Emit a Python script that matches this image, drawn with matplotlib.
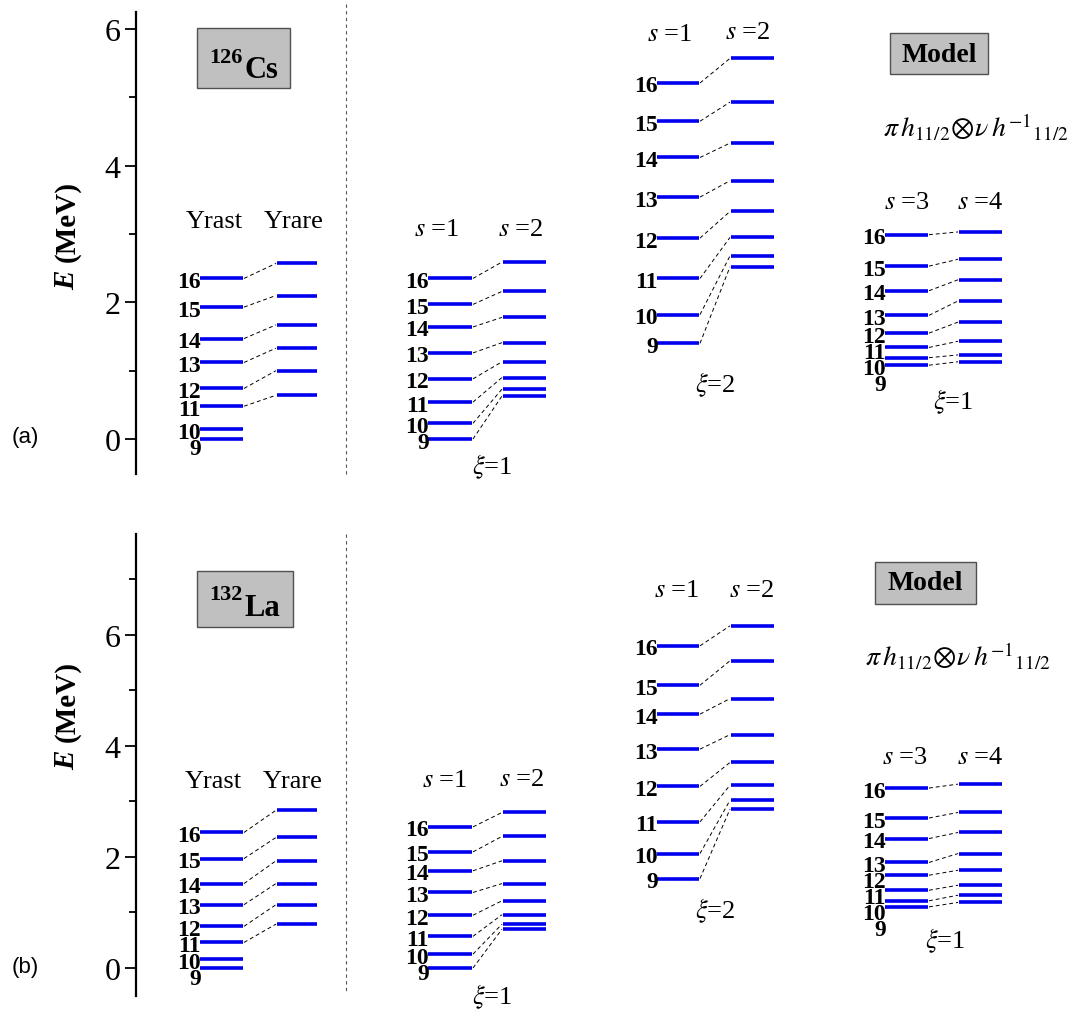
import numpy as np
import matplotlib
matplotlib.use("Agg")
import matplotlib.pyplot as plt
from matplotlib.patches import Rectangle

plt.rcParams['font.family'] = ['Liberation Serif', 'DejaVu Serif']
plt.rcParams['mathtext.fontset'] = 'stix'

W, H = 1083, 1012

spins = [9, 10, 11, 12, 13, 14, 15, 16]

# 126Cs, energies in MeV (yrare band starts at I = 11)
cs_yrast = [0.00, 0.14, 0.48, 0.74, 1.12, 1.47, 1.93, 2.35]
cs_yrare = [0.64, 1.00, 1.33, 1.67, 2.10, 2.57]
cs_xi1_s1 = [0.00, 0.23, 0.54, 0.88, 1.26, 1.64, 1.97, 2.35]
cs_xi1_s2 = [0.63, 0.73, 0.90, 1.13, 1.41, 1.78, 2.16, 2.59]
cs_xi2_s1 = [1.40, 1.82, 2.35, 2.94, 3.54, 4.12, 4.65, 5.21]
cs_xi2_s2 = [2.52, 2.68, 2.95, 3.33, 3.78, 4.33, 4.93, 5.57]
cs_mod_s3 = [1.08, 1.19, 1.34, 1.55, 1.81, 2.17, 2.53, 2.99]
cs_mod_s4 = [1.13, 1.23, 1.43, 1.71, 2.02, 2.33, 2.63, 3.03]

# 132La
la_yrast = [0.00, 0.16, 0.46, 0.75, 1.14, 1.52, 1.97, 2.44]
la_yrare = [0.79, 1.14, 1.52, 1.93, 2.35, 2.84]
la_xi1_s1 = [0.00, 0.25, 0.57, 0.95, 1.36, 1.75, 2.09, 2.54]
la_xi1_s2 = [0.70, 0.79, 0.96, 1.21, 1.52, 1.93, 2.37, 2.80]
la_xi2_s1 = [1.61, 2.06, 2.63, 3.27, 3.94, 4.57, 5.09, 5.80]
la_xi2_s2 = [2.86, 3.02, 3.29, 3.70, 4.20, 4.85, 5.53, 6.16]
la_mod_s3 = [1.10, 1.21, 1.40, 1.67, 1.90, 2.33, 2.70, 3.24]
la_mod_s4 = [1.18, 1.31, 1.49, 1.76, 2.06, 2.44, 2.80, 3.31]

# column x extents (pixels)
COLS = {
    'yrast': (200, 243), 'yrare': (277, 317),
    'x1s1': (428, 472), 'x1s2': (503, 546),
    'x2s1': (657, 699), 'x2s2': (731, 774),
    'ms3': (885, 928), 'ms4': (959, 1002),
}

fig = plt.figure(figsize=(W / 100, H / 100), dpi=100)


def fpos(x, y):
    return x / W, 1 - y / H


def ftext(x, y, s, **kw):
    kw.setdefault('ha', 'center')
    kw.setdefault('va', 'center')
    fig.text(*fpos(x, y), s, **kw)


def fbox(x0, y0, x1, y1):
    fig.add_artist(Rectangle(fpos(x0, y1), (x1 - x0) / W, (y1 - y0) / H,
                             transform=fig.transFigure, facecolor='#c0c0c0',
                             edgecolor='#505050', lw=1.0, zorder=1))


def make_axes(top_px, bot_px, zero_px, ppm, spine_lo, spine_hi, major, minor):
    ax = fig.add_axes([0, 1 - bot_px / H, 1, (bot_px - top_px) / H])
    ax.set_xlim(0, W)
    ax.set_ylim((zero_px - bot_px) / ppm, (zero_px - top_px) / ppm)
    for s in ['top', 'right', 'bottom']:
        ax.spines[s].set_visible(False)
    ax.spines['left'].set_position(('data', 136))
    ax.spines['left'].set_bounds(spine_lo, spine_hi)
    ax.spines['left'].set_linewidth(1.6)
    ax.set_xticks([])
    ax.set_yticks(major)
    ax.set_yticklabels([str(m) for m in major], fontsize=23,
                       family=['Liberation Serif'])
    ax.set_yticks(minor, minor=True)
    ax.tick_params(axis='y', which='major', direction='out', length=8,
                   width=1.3, pad=3)
    ax.tick_params(axis='y', which='minor', direction='out', length=5,
                   width=1.3)
    ax.patch.set_alpha(0)
    return ax


def levels(ax, col, vals):
    x0, x1 = COLS[col]
    ax.hlines(vals, x0, x1, colors='#0000ee', lw=2.6, zorder=3)


def links(ax, c0, lo, c1, hi):
    xa = COLS[c0][1]
    xb = COLS[c1][0]
    for a, b in zip(lo, hi):
        ax.plot([xa + 1, xb - 1], [a, b], color='black', lw=0.7,
                ls=(0, (4, 3)), zorder=2)


def spin_labels(ax, col, vals, ppm, gap_px=16):
    # push labels of crowded low-lying levels downward
    x0 = COLS[col][0]
    gap = gap_px / ppm
    ys = []
    prev = None
    for v in sorted(vals, reverse=True):
        y = v if prev is None else min(v, prev - gap)
        ys.append(y)
        prev = y
    for sp, y in zip(sorted(spins, reverse=True), ys):
        ax.text(x0 + 1, y - 3 / ppm, str(sp), ha='right', va='center',
                fontsize=17, fontweight='bold', zorder=4)


def draw_panel(ax, ppm, yrast, yrare, x1s1, x1s2, x2s1, x2s2, ms3, ms4):
    levels(ax, 'yrast', yrast)
    levels(ax, 'yrare', yrare)
    links(ax, 'yrast', yrast[2:], 'yrare', yrare)
    spin_labels(ax, 'yrast', yrast, ppm)

    levels(ax, 'x1s1', x1s1)
    levels(ax, 'x1s2', x1s2)
    links(ax, 'x1s1', x1s1, 'x1s2', x1s2)
    spin_labels(ax, 'x1s1', x1s1, ppm)

    levels(ax, 'x2s1', x2s1)
    levels(ax, 'x2s2', x2s2)
    links(ax, 'x2s1', x2s1, 'x2s2', x2s2)
    spin_labels(ax, 'x2s1', x2s1, ppm)

    levels(ax, 'ms3', ms3)
    levels(ax, 'ms4', ms4)
    links(ax, 'ms3', ms3, 'ms4', ms4)
    spin_labels(ax, 'ms3', ms3, ppm)


# (a) 126Cs
ppm_a = 410 / 6
ax_a = make_axes(0, 500, 440, ppm_a, -0.51, 6.25, [0, 2, 4, 6], [1, 3, 5])
draw_panel(ax_a, ppm_a, cs_yrast, cs_yrare, cs_xi1_s1, cs_xi1_s2,
           cs_xi2_s1, cs_xi2_s2, cs_mod_s3, cs_mod_s4)

# (b) 132La
ppm_b = 333.3 / 6
ax_b = make_axes(506, 1012, 969, ppm_b, -0.50, 7.81, [0, 2, 4, 6],
                 [1, 3, 5, 7])
draw_panel(ax_b, ppm_b, la_yrast, la_yrare, la_xi1_s1, la_xi1_s2,
           la_xi2_s1, la_xi2_s2, la_mod_s3, la_mod_s4)

# dashed separators
for y0, y1 in [(5, 475), (535, 993)]:
    fig.add_artist(plt.Line2D([346 / W, 346 / W], [1 - y0 / H, 1 - y1 / H],
                              transform=fig.transFigure, color='#555555',
                              lw=0.8, ls=(0, (3, 3))))

# axis titles
for yc in [236, 716]:
    ftext(67, yc + 44, 'E', rotation=90, fontsize=21, fontweight='bold',
          fontstyle='italic')
    ftext(67, yc - 14, '(MeV)', rotation=90, fontsize=21, fontweight='bold')

ftext(25, 438, '(a)', fontsize=16, family=['Liberation Sans', 'DejaVu Sans'])
ftext(25, 968, '(b)', fontsize=16, family=['Liberation Sans', 'DejaVu Sans'])

# nucleus boxes
fbox(197, 29, 290, 89)
ftext(226, 58, '126', fontsize=16, fontweight='bold')
ftext(261, 71, 'Cs', fontsize=22, fontweight='bold')
fbox(197, 572, 293, 628)
ftext(226, 595, '132', fontsize=16, fontweight='bold')
ftext(262, 609, 'La', fontsize=22, fontweight='bold')

# model boxes and configuration
fbox(890, 34, 988, 75)
ftext(939, 55, 'Model', fontsize=20, fontweight='bold')
fbox(875, 563, 976, 605)
ftext(925, 584, 'Model', fontsize=20, fontweight='bold')
config = r'$\pi\,h_{11/2}\!\otimes\!\nu\,h^{-1}{}_{11/2}$'
ftext(976, 128, config, fontsize=20)
ftext(958, 657, config, fontsize=20)

# band headers
heads = [
    (214, 222, 'Yrast'), (294, 222, 'Yrare'),
    (437, 230, '$s$ =1'), (521, 230, '$s$ =2'),
    (670, 35, '$s$ =1'), (748, 33, '$s$ =2'),
    (907, 203, '$s$ =3'), (980, 203, '$s$ =4'),
    (492, 467, r'$\xi$=1'), (715, 385, r'$\xi$=2'), (953, 402, r'$\xi$=1'),
    (213, 782, 'Yrast'), (293, 782, 'Yrare'),
    (445, 781, '$s$ =1'), (522, 780, '$s$ =2'),
    (677, 591, '$s$ =1'), (752, 591, '$s$ =2'),
    (905, 758, '$s$ =3'), (980, 758, '$s$ =4'),
    (492, 997, r'$\xi$=1'), (715, 911, r'$\xi$=2'), (945, 941, r'$\xi$=1'),
]
for x, y, s in heads:
    ftext(x, y, s, fontsize=19)

fig.savefig('out.png', dpi=100)
